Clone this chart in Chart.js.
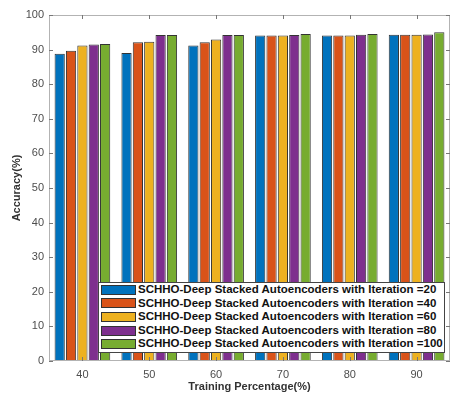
<!DOCTYPE html>
<html>
<head>
<meta charset="utf-8">
<script src="https://cdn.jsdelivr.net/npm/chart.js@4"></script>
<style>
  html, body { margin: 0; padding: 0; background: #fff; }
  #wrap { position: relative; width: 451px; height: 393px; }
  #legend {
    position: absolute; left: 98px; top: 282px; width: 347px; height: 71px;
    background: #fff; border: 1px solid #444; box-sizing: border-box;
    font: bold 11.5px "Liberation Sans", Arial, sans-serif; color: #111;
    padding-top: 0;
  }
  .row { height: 13.6px; line-height: 13.6px; white-space: nowrap; display: flex; align-items: center; }
  .sw { display: inline-block; width: 35px; height: 10px; border: 1px solid #333; box-sizing: border-box; margin: 0 2px 0 2px; }
</style>
</head>
<body>
<div id="wrap">
  <canvas id="chart" width="451" height="393"></canvas>
  <div id="legend"></div>
</div>
<script>
const categories = ['40', '50', '60', '70', '80', '90'];
const seriesNames = [
  'SCHHO-Deep Stacked Autoencoders with Iteration =20',
  'SCHHO-Deep Stacked Autoencoders with Iteration =40',
  'SCHHO-Deep Stacked Autoencoders with Iteration =60',
  'SCHHO-Deep Stacked Autoencoders with Iteration =80',
  'SCHHO-Deep Stacked Autoencoders with Iteration =100'
];
const iter20  = [88.8, 89.0, 91.2, 94.1, 94.1, 94.3];
const iter40  = [89.7, 92.1, 92.1, 94.1, 94.1, 94.3];
const iter60  = [91.2, 92.3, 92.9, 94.1, 94.1, 94.3];
const iter80  = [91.5, 94.2, 94.2, 94.2, 94.3, 94.4];
const iter100 = [91.6, 94.2, 94.2, 94.5, 94.5, 95.0];
const colors = ['#0072BD', '#D95319', '#EDB120', '#7E2F8E', '#77AC30'];

const allSeries = [iter20, iter40, iter60, iter80, iter100];
const font = '"Liberation Sans", Arial, Helvetica, sans-serif';

// box round the plot and inward ticks, the way matlab draws them
const boxPlugin = {
  id: 'box',
  afterDraw(chart) {
    const { ctx, chartArea: a, scales } = chart;
    ctx.save();
    ctx.strokeStyle = '#b3b3b3';
    ctx.lineWidth = 1;
    ctx.strokeRect(a.left + 0.5, a.top + 0.5, a.right - a.left - 1, a.bottom - a.top - 1);
    ctx.strokeStyle = '#777';
    scales.x.ticks.forEach((t, i) => {
      const x = Math.round(scales.x.getPixelForTick(i)) + 0.5;
      ctx.beginPath();
      ctx.moveTo(x, a.top); ctx.lineTo(x, a.top + 4);
      ctx.moveTo(x, a.bottom); ctx.lineTo(x, a.bottom - 4);
      ctx.stroke();
    });
    scales.y.ticks.forEach(t => {
      const y = Math.round(scales.y.getPixelForValue(t.value)) + 0.5;
      ctx.beginPath();
      ctx.moveTo(a.left, y); ctx.lineTo(a.left + 4, y);
      ctx.moveTo(a.right, y); ctx.lineTo(a.right - 4, y);
      ctx.stroke();
    });
    ctx.restore();
  }
};

new Chart(document.getElementById('chart'), {
  type: 'bar',
  data: {
    labels: categories,
    datasets: allSeries.map((d, i) => ({
      label: seriesNames[i],
      data: d,
      backgroundColor: colors[i],
      borderColor: '#333',
      borderWidth: 1,
      categoryPercentage: 0.85,
      barPercentage: 0.9
    }))
  },
  options: {
    responsive: false,
    animation: false,
    layout: { padding: { top: 15, right: 1, left: 0, bottom: 0 } },
    plugins: { legend: { display: false }, tooltip: { enabled: false } },
    scales: {
      x: {
        grid: { display: false, drawTicks: false },
        border: { display: false },
        ticks: { color: '#4d4d4d', font: { family: font, size: 11 }, padding: 7 },
        title: { display: true, text: 'Training Percentage(%)', color: '#333', font: { family: font, size: 11, weight: 'bold' }, padding: { top: 2, bottom: -1 } },
        afterFit: s => { s.height = 32; }
      },
      y: {
        min: 0, max: 100,
        grid: { display: false, drawTicks: false },
        border: { display: false },
        ticks: { stepSize: 10, color: '#4d4d4d', font: { family: font, size: 11 }, padding: 5 },
        title: { display: true, text: 'Accuracy(%)', color: '#333', font: { family: font, size: 11, weight: 'bold' }, padding: { top: 10, bottom: 0 } },
        afterFit: s => { s.width = 49; }
      }
    }
  },
  plugins: [boxPlugin]
});

const legend = document.getElementById('legend');
seriesNames.forEach((name, i) => {
  const row = document.createElement('div');
  row.className = 'row';
  row.innerHTML = '<span class="sw" style="background:' + colors[i] + '"></span><span>' + name + '</span>';
  legend.appendChild(row);
});
</script>
</body>
</html>
